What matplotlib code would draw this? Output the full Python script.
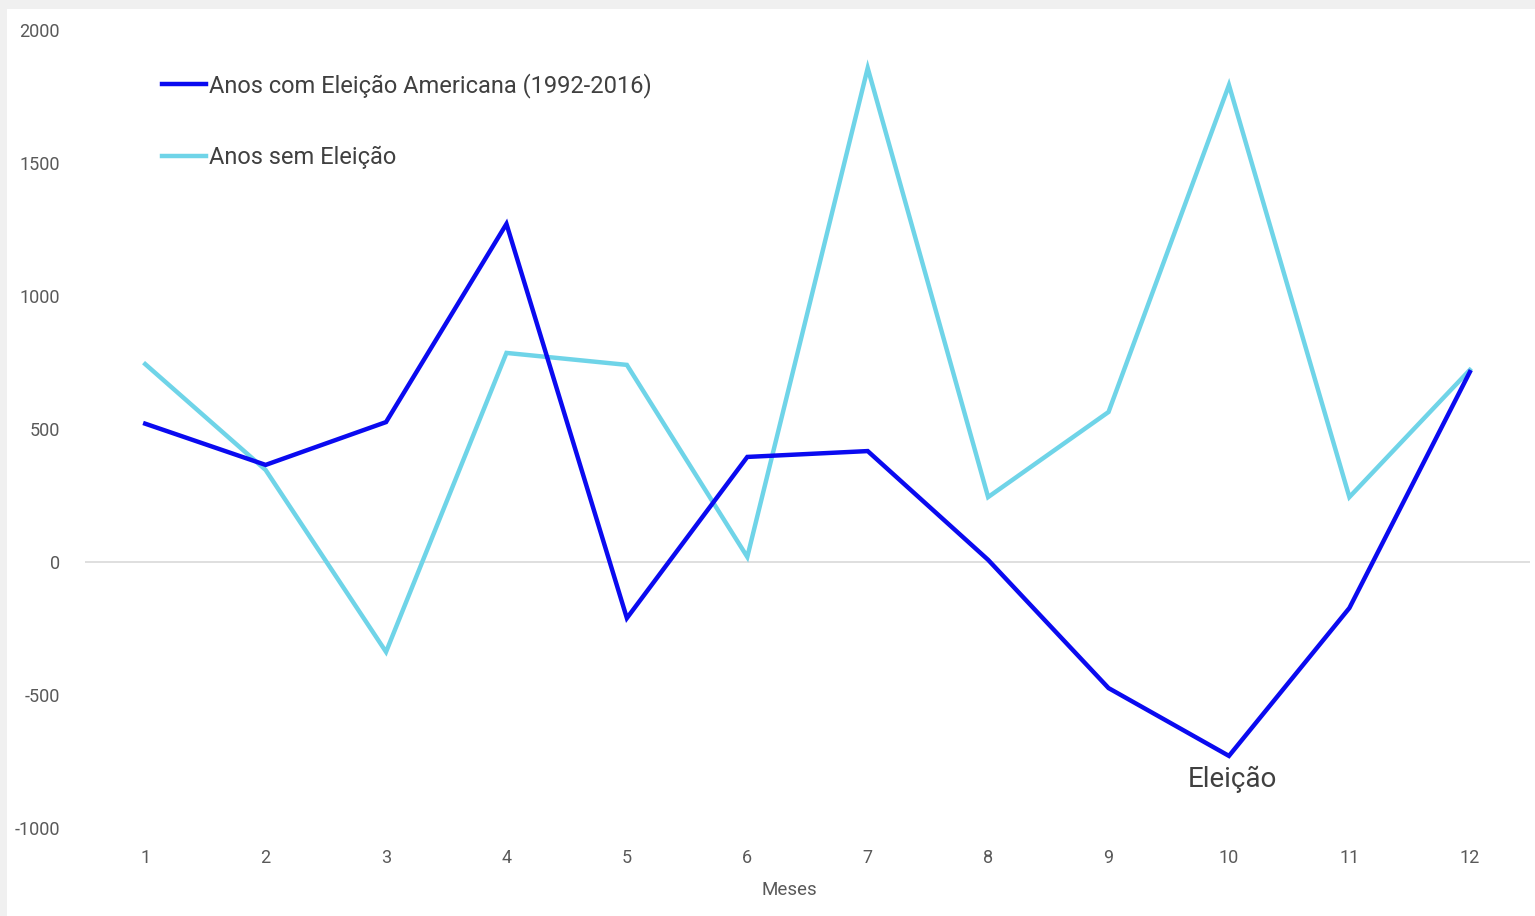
import matplotlib
matplotlib.use("Agg")
import matplotlib.pyplot as plt
from matplotlib.patches import Rectangle

months = [1, 2, 3, 4, 5, 6, 7, 8, 9, 10, 11, 12]
election_years = [520, 365, 526, 1271, -211, 395, 417, 8, -474, -729, -173, 714]
non_election_years = [744, 346, -338, 786, 741, 19, 1857, 244, 564, 1793, 244, 722]
label_election = "Anos com Eleição Americana (1992-2016)"
label_non_election = "Anos sem Eleição"
y_ticks = [-1000, -500, 0, 500, 1000, 1500, 2000]

plt.rcParams['font.family'] = ['Roboto', 'DejaVu Sans']
plt.rcParams['axes.unicode_minus'] = False

W, H = 1535, 916
fig = plt.figure(figsize=(W / 100, H / 100), dpi=100)
fig.patch.set_facecolor('#f0f0f0')
fig.patches.append(Rectangle((7 / W, 0), 1 - 7 / W, 1 - 9 / H,
                             transform=fig.transFigure, facecolor='white',
                             edgecolor='none', zorder=-10))

ax = fig.add_axes([85 / W, 1 - 828 / H, (1530 - 85) / W, (828 - 30) / H])
ax.set_facecolor('none')

ax.axhline(0, color='#d9d9d9', lw=1.2, zorder=1)
ax.plot(months, election_years, color='#0a0af0', lw=3.2, label=label_election,
        solid_joinstyle='miter', zorder=3)
ax.plot(months, non_election_years, color='#6fd4e8', lw=3.2, label=label_non_election,
        solid_joinstyle='miter', zorder=2)

ax.set_xlim(0.5, 12.5)
ax.set_ylim(-1000, 2000)
ax.set_xticks(months)
ax.set_yticks(y_ticks)
ax.tick_params(axis='both', length=0, labelsize=13, labelcolor='#595959')
ax.tick_params(axis='y', pad=18)
ax.tick_params(axis='x', pad=15)
for s in ax.spines.values():
    s.set_visible(False)

ax.set_xlabel("Meses", fontsize=13.5, color='#595959')
ax.xaxis.set_label_coords((789 - 85) / (1530 - 85), -0.067)

ax.text(10.03, -816, "Eleição", fontsize=20, color='#404040',
        ha='center', va='center')

leg = ax.legend(loc='upper left', bbox_to_anchor=(0.047, 0.958), frameon=False,
                fontsize=17, handlelength=1.85, handletextpad=0.12,
                labelspacing=2.05, borderaxespad=0)
for t in leg.get_texts():
    t.set_color('#404040')

fig.savefig("out.png", dpi=100)
